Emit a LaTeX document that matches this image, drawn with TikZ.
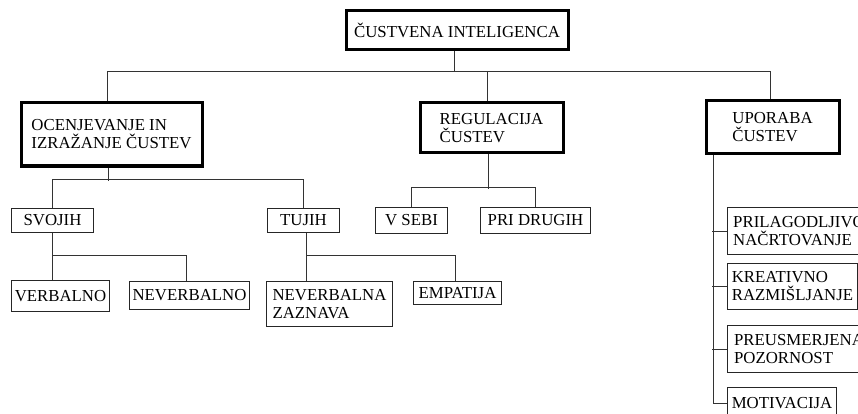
\documentclass[tikz,border=0pt]{standalone}
\usepackage{fontspec}
\setmainfont{Liberation Serif}
\begin{document}
\begin{tikzpicture}[x=1pt,y=-1pt,
  every node/.style={font=\fontsize{16.8}{18}\selectfont, text=black},
  box/.style={draw=black!85, line width=1pt, anchor=north west, inner sep=1.5pt, align=left},
  major/.style={box, draw=black, line width=3pt},
  conn/.style={draw=black!80, line width=1pt}]
\useasboundingbox (0,0) rectangle (858,414);
\clip (0,0) rectangle (858,414);

% main concept
\node[major, minimum width=222pt, minimum height=39pt] (top) at (344.5,9.5) {ČUSTVENA INTELIGENCA};

% three branches
\node[major, minimum width=181pt, minimum height=63pt] (oc) at (19.5,101.5) {OCENJEVANJE IN\\IZRAŽANJE ČUSTEV};
\node[major, minimum width=143pt, minimum height=50pt] (reg) at (418.5,101.5) {REGULACIJA\\ČUSTEV};
\node[major, minimum width=133pt, minimum height=53pt] (upo) at (704.5,99.5) {UPORABA\\ČUSTEV};

% assessing and expressing
\node[box, minimum width=82pt, minimum height=24pt] (svojih) at (11,208) {SVOJIH};
\node[box, minimum width=72pt, minimum height=24pt] (tujih) at (267,208) {TUJIH};
\node[box, minimum width=98pt, minimum height=31pt] (verb) at (11,280) {VERBALNO};
\node[box, minimum width=120pt, minimum height=28pt] (neverb) at (129,281) {NEVERBALNO};
\node[box, minimum width=126pt, minimum height=45pt] (nz) at (266,281) {NEVERBALNA\\ZAZNAVA};
\node[box, minimum width=88pt, minimum height=23pt] (emp) at (413,281) {EMPATIJA};

% regulation
\node[box, minimum width=72pt, minimum height=26pt] (vsebi) at (375,207) {V SEBI};
\node[box, minimum width=110pt, minimum height=26pt] (drugih) at (480,207) {PRI DRUGIH};

% use of emotions
\node[box, minimum width=143pt, minimum height=47pt] (pril) at (727,207) {PRILAGODLJIVO\\NAČRTOVANJE};
\node[box, minimum width=130pt, minimum height=46pt] (kreat) at (727,263) {KREATIVNO\\RAZMIŠLJANJE};
\node[box, minimum width=143pt, minimum height=47pt] (preus) at (727,325) {PREUSMERJENA\\POZORNOST};
\node[box, minimum width=109pt, minimum height=31pt] (motiv) at (727,387) {MOTIVACIJA};

% top-level bus
\coordinate (busL) at (107,72);
\coordinate (busR) at (770,72);
\draw[conn] ([xshift=-2.5pt]top.south) -- ([xshift=-2.5pt]top.south |- busL);
\draw[conn] (oc.north -| busL) -- (busL) -- (busR) -- (upo.north -| busR);
\draw[conn] ([xshift=-4pt]reg.north) -- ([xshift=-4pt]reg.north |- busL);

% assessing subtree
\draw[conn] ([xshift=-3pt]oc.south) -- ++(0,13);
\draw[conn] (svojih.north) -- ++(0,-29) -| (tujih.north);
\coordinate (jS) at (svojih.south |- 0,255);
\draw[conn] (svojih.south) -- (jS) -- (jS |- verb.north);
\draw[conn] (jS) -| ([xshift=-3pt]neverb.north);
\coordinate (jT) at ([xshift=3pt]tujih.south |- 0,255);
\draw[conn] ([xshift=3pt]tujih.south) -- (jT) -- (jT |- nz.north);
\draw[conn] (jT) -| ([xshift=-2pt]emp.north);

% regulation subtree
\draw[conn] ([xshift=-3pt]reg.south) -- ++(0,34);
\draw[conn] (vsebi.north) -- ++(0,-20) -| (drugih.north);

% use subtree: spine with side branches
\draw[conn] ([xshift=-59pt]upo.south) |- (motiv.west);
\draw[conn] (pril.west) -- ++(-15,0);
\draw[conn] (kreat.west) -- ++(-15,0);
\draw[conn] (preus.west) -- ++(-15,0);
\end{tikzpicture}
\end{document}
